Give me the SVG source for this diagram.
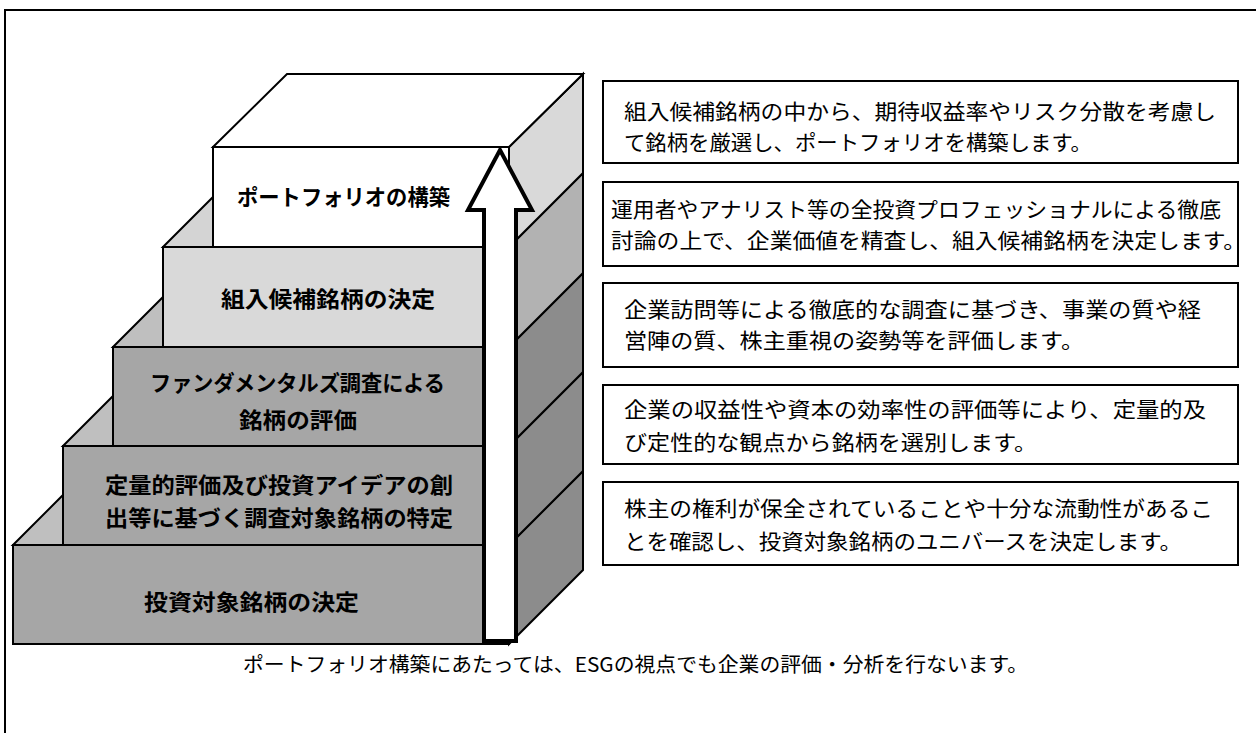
<svg xmlns="http://www.w3.org/2000/svg" width="1256" height="733" viewBox="0 0 1256 733">
<style>
.face{stroke:#000;stroke-width:2;stroke-linejoin:miter}
.lbl{font-family:"Noto Sans CJK JP","Noto Sans CJK SC",sans-serif;font-size:22px;font-weight:700;fill:#000}
.txt{font-family:"Noto Sans CJK JP","Noto Sans CJK SC",sans-serif;font-size:21px;fill:#000}
.cap{font-family:"Noto Sans CJK JP","Noto Sans CJK SC",sans-serif;font-size:20px;fill:#000}
.box{fill:#fff;stroke:#000;stroke-width:2}
</style>
<rect width="1256" height="733" fill="#fff"/>
<rect x="5" y="10" width="1400" height="900" fill="none" stroke="#000" stroke-width="2"/>

<g id="step-5-base">
<polygon class="face" points="509,545 583,471 583,570 509,644" fill="#8c8c8c"/>
<polygon class="face" points="13,545 63,495 63,545" fill="#bfbfbf"/>
<rect class="face" x="13" y="545" width="496" height="99" fill="#a6a6a6"/>
<text class="lbl" x="144" y="610" textLength="215" lengthAdjust="spacingAndGlyphs">投資対象銘柄の決定</text>
</g>
<g id="step-4-quant">
<polygon class="face" points="509,446 583,372 583,471 509,545" fill="#8c8c8c"/>
<polygon class="face" points="63,446 113,396 113,446" fill="#bfbfbf"/>
<rect class="face" x="63" y="446" width="446" height="99" fill="#a6a6a6"/>
<text class="lbl" x="105" y="493" textLength="348" lengthAdjust="spacingAndGlyphs">定量的評価及び投資アイデアの創</text>
<text class="lbl" x="105" y="526" textLength="348" lengthAdjust="spacingAndGlyphs">出等に基づく調査対象銘柄の特定</text>
</g>
<g id="step-3-fundamental">
<polygon class="face" points="509,347 583,273 583,372 509,446" fill="#8c8c8c"/>
<polygon class="face" points="113,347 163,297 163,347" fill="#bfbfbf"/>
<rect class="face" x="113" y="347" width="396" height="99" fill="#a6a6a6"/>
<text class="lbl" x="150" y="391" textLength="295" lengthAdjust="spacingAndGlyphs">ファンダメンタルズ調査による</text>
<text class="lbl" x="239" y="428" textLength="118" lengthAdjust="spacingAndGlyphs">銘柄の評価</text>
</g>
<g id="step-2-candidates">
<polygon class="face" points="509,247 583,173 583,273 509,347" fill="#b2b2b2"/>
<polygon class="face" points="163,247 213,197 213,247" fill="#d4d4d4"/>
<rect class="face" x="163" y="247" width="346" height="100" fill="#d9d9d9"/>
<text class="lbl" x="221" y="307" textLength="214" lengthAdjust="spacingAndGlyphs">組入候補銘柄の決定</text>
</g>
<g id="step-1-portfolio">
<polygon class="face" points="509,147 583,74 583,173 509,247" fill="#d9d9d9"/>
<polygon class="face" points="213,147 287,74 583,74 509,147" fill="#fff"/>
<rect class="face" x="213" y="147" width="296" height="100" fill="#fff"/>
<text class="lbl" x="237" y="205" textLength="213" lengthAdjust="spacingAndGlyphs">ポートフォリオの構築</text>
</g>

<g id="connectors">
<polygon points="500,150 532,210 516,210 516,641 484,641 484,210 468,210" fill="#fff" stroke="#000" stroke-width="4" stroke-linejoin="miter"/>
</g>

<g id="desc-1">
<rect class="box" x="603" y="81" width="635" height="82"/>
<text class="txt" x="624" y="119" textLength="592" lengthAdjust="spacingAndGlyphs">組入候補銘柄の中から、期待収益率やリスク分散を考慮し</text>
<text class="txt" x="624" y="149.5" textLength="468" lengthAdjust="spacingAndGlyphs">て銘柄を厳選し、ポートフォリオを構築します。</text>
</g>
<g id="desc-2">
<rect class="box" x="603" y="182" width="635" height="84"/>
<text class="txt" x="611" y="217" textLength="610" lengthAdjust="spacingAndGlyphs">運用者やアナリスト等の全投資プロフェッショナルによる徹底</text>
<text class="txt" x="611" y="247.5" textLength="635" lengthAdjust="spacingAndGlyphs">討論の上で、企業価値を精査し、組入候補銘柄を決定します。</text>
</g>
<g id="desc-3">
<rect class="box" x="603" y="283" width="635" height="84"/>
<text class="txt" x="624" y="317" textLength="577" lengthAdjust="spacingAndGlyphs">企業訪問等による徹底的な調査に基づき、事業の質や経</text>
<text class="txt" x="624" y="347.5" textLength="460" lengthAdjust="spacingAndGlyphs">営陣の質、株主重視の姿勢等を評価します。</text>
</g>
<g id="desc-4">
<rect class="box" x="603" y="385" width="635" height="79"/>
<text class="txt" x="624" y="417" textLength="582" lengthAdjust="spacingAndGlyphs">企業の収益性や資本の効率性の評価等により、定量的及</text>
<text class="txt" x="624" y="450" textLength="413" lengthAdjust="spacingAndGlyphs">び定性的な観点から銘柄を選別します。</text>
</g>
<g id="desc-5">
<rect class="box" x="603" y="482" width="635" height="83"/>
<text class="txt" x="624" y="516" textLength="589" lengthAdjust="spacingAndGlyphs">株主の権利が保全されていることや十分な流動性があるこ</text>
<text class="txt" x="624" y="549" textLength="558" lengthAdjust="spacingAndGlyphs">とを確認し、投資対象銘柄のユニバースを決定します。</text>
</g>
<g id="caption">
<text class="cap" x="243" y="672" textLength="785" lengthAdjust="spacingAndGlyphs">ポートフォリオ構築にあたっては、ESGの視点でも企業の評価・分析を行ないます。</text>
</g>
</svg>
